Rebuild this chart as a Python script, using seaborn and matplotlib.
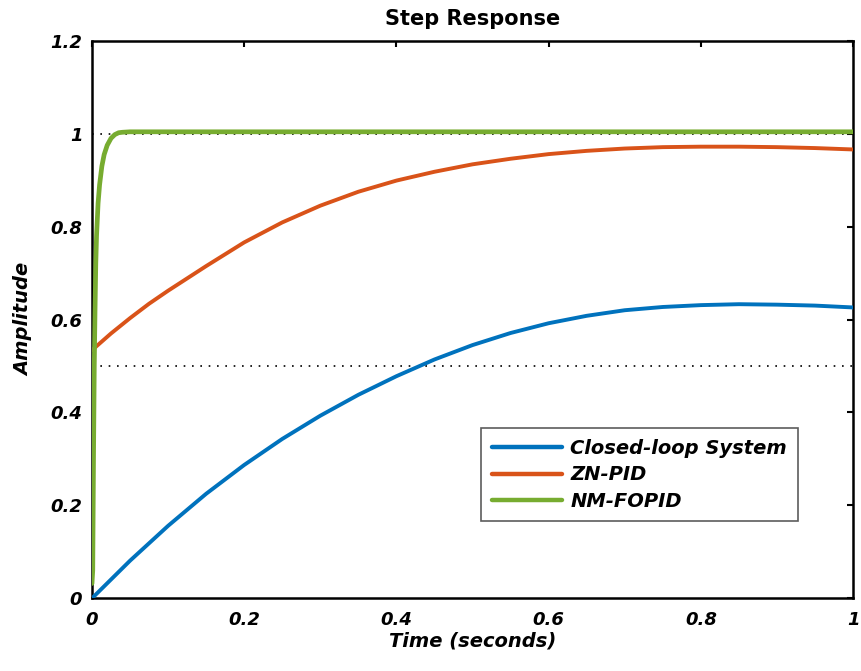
import numpy as np
import pandas as pd
import matplotlib
matplotlib.use("Agg")
import matplotlib.pyplot as plt
from matplotlib.font_manager import FontProperties
import seaborn as sns

# ---- data ----
t_closed = [0.00, 0.05, 0.10, 0.15, 0.20, 0.25, 0.30, 0.35, 0.40, 0.45, 0.50,
            0.55, 0.60, 0.65, 0.70, 0.75, 0.80, 0.85, 0.90, 0.95, 1.00]
closed_loop = [0.000, 0.081, 0.156, 0.225, 0.287, 0.343, 0.393, 0.438, 0.478, 0.514, 0.545,
               0.571, 0.592, 0.608, 0.620, 0.627, 0.631, 0.633, 0.632, 0.630, 0.626]
t_zn = [0.000, 0.025, 0.050, 0.075, 0.10, 0.15, 0.20, 0.25, 0.30, 0.35, 0.40, 0.45,
        0.50, 0.55, 0.60, 0.65, 0.70, 0.75, 0.80, 0.85, 0.90, 0.95, 1.00]
zn_pid = [0.534, 0.570, 0.603, 0.634, 0.662, 0.715, 0.766, 0.809, 0.845, 0.875, 0.899, 0.918,
          0.934, 0.946, 0.956, 0.963, 0.968, 0.971, 0.972, 0.972, 0.971, 0.969, 0.966]
t_fopid = [0.000, 0.001, 0.002, 0.003, 0.004, 0.005, 0.006, 0.008, 0.010, 0.013, 0.016,
           0.020, 0.025, 0.030, 0.035, 0.040, 0.050, 0.100, 0.300, 0.500, 0.700, 1.000]
nm_fopid = [0.032, 0.060, 0.300, 0.500, 0.620, 0.720, 0.780, 0.850, 0.890, 0.930, 0.955,
            0.975, 0.990, 0.998, 1.002, 1.003, 1.004, 1.004, 1.004, 1.004, 1.004, 1.004]
ref_levels = [1.0, 0.5]
x_ticks = [0, 0.2, 0.4, 0.6, 0.8, 1]
x_ticklabels = ["0", "0.2", "0.4", "0.6", "0.8", "1"]
y_ticks = [0, 0.2, 0.4, 0.6, 0.8, 1.0, 1.2]
y_ticklabels = ["0", "0.2", "0.4", "0.6", "0.8", "1", "1.2"]
labels = ["Closed-loop System", "ZN-PID", "NM-FOPID"]
colors = ["#0072BD", "#D95319", "#77AC30"]

sns.set_style("white")
plt.rcParams["font.family"] = ["DejaVu Sans"]
plt.rcParams["text.color"] = "black"
plt.rcParams["axes.labelcolor"] = "black"
plt.rcParams["xtick.color"] = "black"
plt.rcParams["ytick.color"] = "black"

df_cl = pd.DataFrame({"t": t_closed, "y": closed_loop})
df_zn = pd.DataFrame({"t": t_zn, "y": zn_pid})
df_nm = pd.DataFrame({"t": t_fopid, "y": nm_fopid})

fig = plt.figure(figsize=(8.62, 6.71), dpi=100)
ax = fig.add_axes([0.1067, 0.1083, 0.8829, 0.8310])

for lvl in ref_levels:
    ax.plot([0, 1], [lvl, lvl], color="black", lw=1.2, linestyle=(0, (1, 4)), zorder=1)

sns.lineplot(data=df_cl, x="t", y="y", ax=ax, color=colors[0], lw=2.8, label=labels[0], zorder=3)
sns.lineplot(data=df_zn, x="t", y="y", ax=ax, color=colors[1], lw=2.8, label=labels[1], zorder=3)
sns.lineplot(data=df_nm, x="t", y="y", ax=ax, color=colors[2], lw=3.4, label=labels[2], zorder=4)

ax.set_xlim(0, 1)
ax.set_ylim(0, 1.2)
ax.set_xticks(x_ticks)
ax.set_xticklabels(x_ticklabels)
ax.set_yticks(y_ticks)
ax.set_yticklabels(y_ticklabels)

tick_fp = FontProperties(family="DejaVu Sans", weight="bold", style="italic", size=13)
for lab in ax.get_xticklabels() + ax.get_yticklabels():
    lab.set_fontproperties(tick_fp)
    lab.set_color("black")

ax.tick_params(axis="both", direction="in", length=4.5, width=1.5, colors="black",
               top=True, right=True)
ax.tick_params(axis="x", pad=9)
ax.tick_params(axis="y", pad=7)
for sp in ax.spines.values():
    sp.set_visible(True)
    sp.set_color("black")
    sp.set_linewidth(1.8)

ax.set_xlabel("Time (seconds)", fontsize=14, fontweight="bold", fontstyle="italic",
              labelpad=2, color="black")
ax.set_ylabel("Amplitude", fontsize=14, fontweight="bold", fontstyle="italic",
              labelpad=12, color="black")
ax.set_title("Step Response", fontsize=15, fontweight="bold", pad=11, color="black")

leg = ax.legend(loc="upper left", bbox_to_anchor=(0.511, 0.305), borderaxespad=0,
                prop=dict(family="DejaVu Sans", weight="bold", style="italic", size=14),
                handlelength=3.6, handletextpad=0.45, labelspacing=0.38, borderpad=0.55,
                fancybox=False, frameon=True)
leg.get_frame().set_edgecolor("#333333")
leg.get_frame().set_linewidth(1.2)
for txt in leg.get_texts():
    txt.set_color("black")
for h in leg.get_lines():
    h.set_linewidth(3.2)

fig.savefig("out.png", dpi=100, facecolor="white")
